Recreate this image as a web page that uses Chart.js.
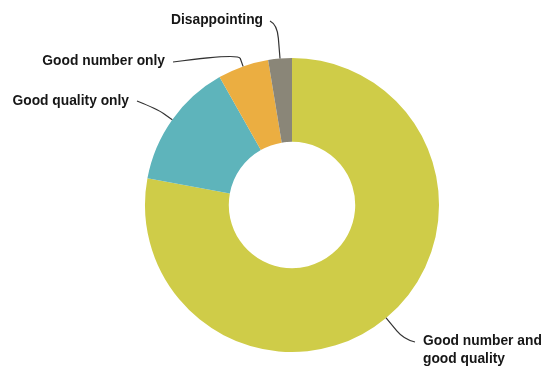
<!DOCTYPE html>
<html>
<head>
<meta charset="utf-8">
<script src="https://cdn.jsdelivr.net/npm/chart.js@4.4.1/dist/chart.umd.min.js"></script>
<style>
  html, body { margin: 0; padding: 0; background: #fff; }
  #wrap { width: 544px; height: 367px; }
</style>
</head>
<body>
<div id="wrap"><canvas id="donut" width="544" height="367"></canvas></div>
<script>
// Data (percent of responses)
const categories = ['Good number and good quality', 'Good quality only', 'Good number only', 'Disappointing'];
const shares = [77.9, 13.9, 5.6, 2.6];
const sliceColors = ['#CFCC48', '#5EB4BB', '#EBAE41', '#8A8678'];

// label text lines, and where the leader line ends / text sits
const labelLines = [['Good number and', 'good quality'], ['Good quality only'], ['Good number only'], ['Disappointing']];
const labelLayout = [
    { ext: 28, endX: 415, endY: 342, textX: 423, textY: 341, align: 'left' },
    { ext: 18, endX: 137, endY: 101, textX: 129, textY: 101, align: 'right' },
    { ext: 14, endX: 173, endY: 62, textX: 165, textY: 61, align: 'right' },
    { ext: 34, endX: 270, endY: 21, textX: 263, textY: 20, align: 'right' }
];

// Draw callout labels with curved leader lines
const calloutPlugin = {
    id: 'callouts',
    afterDatasetsDraw(chart) {
        const ctx = chart.ctx;
        const meta = chart.getDatasetMeta(0);
        ctx.save();
        meta.data.forEach((arc, i) => {
            const lay = labelLayout[i];
            const mid = (arc.startAngle + arc.endAngle) / 2;
            const cx = arc.x, cy = arc.y, r = arc.outerRadius;
            const x0 = cx + Math.cos(mid) * r;
            const y0 = cy + Math.sin(mid) * r;
            const xc = cx + Math.cos(mid) * (r + lay.ext);
            const yc = cy + Math.sin(mid) * (r + lay.ext);

            ctx.beginPath();
            ctx.strokeStyle = '#333';
            ctx.lineWidth = 1.2;
            ctx.moveTo(x0, y0);
            const k = 0.6;
            ctx.lineTo(x0 + (xc - x0) * k, y0 + (yc - y0) * k);
            ctx.quadraticCurveTo(xc, yc, lay.endX, lay.endY);
            ctx.stroke();

            ctx.fillStyle = '#161616';
            ctx.font = 'bold 13.8px "Liberation Sans", Arial, sans-serif';
            ctx.textAlign = lay.align;
            ctx.textBaseline = 'middle';
            labelLines[i].forEach((line, j) => {
                ctx.fillText(line, lay.textX, lay.textY + j * 18);
            });
        });
        ctx.restore();
    }
};

document.addEventListener('DOMContentLoaded', function() {
    const ctx = document.getElementById('donut').getContext('2d');
    new Chart(ctx, {
        type: 'doughnut',
        data: {
            labels: categories,
            datasets: [{
                data: shares,
                backgroundColor: sliceColors,
                borderWidth: 0
            }]
        },
        options: {
            responsive: false,
            animation: false,
            cutout: '43%',
            layout: {
                padding: { left: 145, right: 105, top: 58, bottom: 15 }
            },
            plugins: {
                legend: { display: false },
                tooltip: { enabled: false }
            }
        },
        plugins: [calloutPlugin]
    });
});
</script>
</body>
</html>
